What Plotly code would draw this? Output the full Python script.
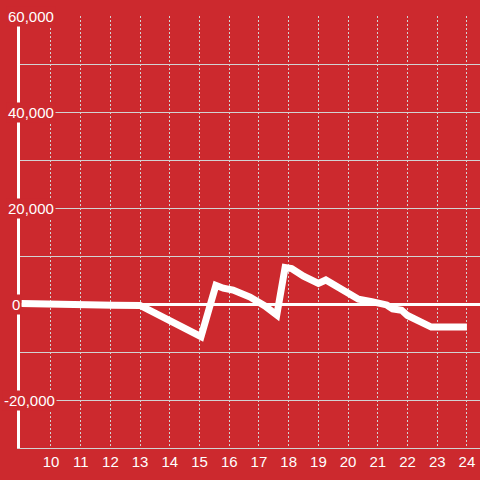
import plotly.graph_objects as go

hours = [9.0, 10.0, 10.6, 11.5, 12.1, 13.0, 13.3, 13.7, 14.0, 14.4, 14.7, 15.05,
         15.55, 15.8, 16.13, 16.7, 17.2, 17.6, 17.88, 18.1, 18.5, 19.0, 19.25,
         19.6, 20.0, 20.35, 20.8, 21.3, 21.5, 21.8, 22.0, 22.3, 22.5, 22.8, 24.0]
values = [100, 100, 0, -50, -250, -300, -1200, -2500, -3300, -4800, -5800, -6800,
          3900, 3300, 2900, 1450, -400, -2300, 7600, 7400, 5800, 4300, 5000,
          3800, 2200, 1000, 500, -200, -1000, -1300, -2400, -3300, -4100, -4800, -4800]

x_ticks = list(range(10, 25))
y_label_vals = [60000, 40000, 20000, 0, -20000]
y_label_text = ["60,000", "40,000", "20,000", "0", "-20,000"]
y_label_left_px = [6, 6, 6, 10, 2]

BG = "#cc292e"
GRID = "#d2d2d2"

fig = go.Figure()
fig.add_trace(go.Scatter(x=hours, y=values, mode="lines",
                         line=dict(color="white", width=7), hoverinfo="skip"))

L, R, T, B = 20, 0, 16, 32
W = 480 - L - R

annotations = []
for v, t, px in zip(y_label_vals, y_label_text, y_label_left_px):
    annotations.append(dict(x=(px - L) / W, xref="paper", y=v, yref="y",
                            text=t, showarrow=False, xanchor="left", yanchor="middle",
                            bgcolor=BG, borderpad=1,
                            font=dict(family="Liberation Sans, Arial, sans-serif", size=15, color="white")))

fig.update_layout(
    width=480, height=480,
    margin=dict(l=L, r=R, t=T, b=B, pad=0),
    paper_bgcolor=BG, plot_bgcolor=BG,
    showlegend=False,
    annotations=annotations,
    xaxis=dict(range=[8.957, 24.44], tickvals=x_ticks, ticks="",
               showgrid=True, gridcolor=GRID, griddash="2px,2px", gridwidth=1,
               showline=True, linecolor=GRID, linewidth=1, zeroline=False,
               tickfont=dict(family="Liberation Sans, Arial, sans-serif", size=15, color="white")),
    yaxis=dict(range=[-30000, 60000], dtick=10000, showticklabels=False, ticks="",
               showgrid=True, gridcolor=GRID, gridwidth=1,
               zeroline=True, zerolinecolor="white", zerolinewidth=3,
               showline=True, linecolor="white", linewidth=3),
)

fig.write_html("out.html",
               config={"displayModeBar": False, "staticPlot": True},
               post_script="document.body.style.margin='0px';document.body.style.padding='0px';"
                           "document.body.style.background='" + BG + "';")
